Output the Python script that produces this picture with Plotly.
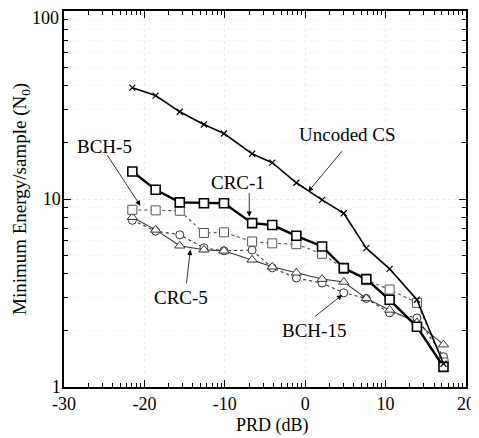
import math
import plotly.graph_objects as go

# ---- data ----
prd_db = [-21.5, -18.6, -15.6, -12.6, -10.1, -6.6, -4.1, -1.1, 2.1, 4.8, 7.6, 10.5, 13.9, 17.2]
uncoded_cs = [39.1, 35.5, 29.1, 24.9, 22.3, 17.4, 15.6, 12.2, 9.9, 8.4, 5.48, 4.25, 2.91, 1.33]
crc_1 = [14.0, 11.2, 9.6, 9.5, 9.5, 7.44, 7.27, 6.37, 5.59, 4.29, 3.75, 2.91, 2.09, 1.28]
bch_5 = [8.76, 8.7, 8.66, 6.6, 6.65, 5.94, 5.81, 5.75, 5.11, 4.25, 3.7, 3.3, 2.8, 1.35]
crc_5 = [8.0, 6.85, 5.64, 5.37, 5.3, 4.75, 4.36, 4.05, 3.75, 3.62, 2.96, 2.57, 2.2, 1.68]
bch_15 = [7.7, 6.75, 6.45, 5.5, 5.3, 5.35, 4.3, 3.8, 3.57, 3.17, 2.96, 2.48, 2.33, 1.45]

x_ticks = [-30, -20, -10, 0, 10, 20]
y_ticks = [1, 10, 100]
y_ticklabels = ["1", "10", "100"]

FONT = "Liberation Serif, Times New Roman, serif"

fig = go.Figure()

def add(name, y, symbol, lw, color, dash, msize, mlw):
    fig.add_trace(go.Scatter(
        x=prd_db, y=y, name=name, mode="lines+markers",
        line=dict(color=color, width=lw, dash=dash),
        marker=dict(symbol=symbol, size=msize, color="white",
                    line=dict(color=color, width=mlw)),
        showlegend=False))

add("BCH-15", bch_15, "circle", 1.1, "#333333", "dot", 8, 1.0)
add("CRC-5", crc_5, "triangle-up", 1.1, "#333333", "solid", 9, 1.0)
add("BCH-5", bch_5, "square", 1.1, "#555555", "dot", 9, 1.0)
add("CRC-1", crc_1, "square", 2.4, "#000000", "solid", 9, 1.6)
fig.add_trace(go.Scatter(
    x=prd_db, y=uncoded_cs, name="Uncoded CS", mode="lines+markers",
    line=dict(color="black", width=1.6),
    marker=dict(symbol="x-thin", size=6, color="black", line=dict(color="black", width=1.2)),
    showlegend=False))

# minor ticks
x_minor = [a + 10 * math.log10(k) for a in x_ticks[:-1] for k in range(2, 10)]
y_minor = [d * k for d in (1, 10) for k in range(2, 10)]

axis_common = dict(showline=True, linecolor="black", linewidth=1.5, mirror="allticks",
                   ticks="inside", ticklen=7, tickwidth=1, tickcolor="black",
                   showgrid=True, gridcolor="#ececec", griddash="dot", gridwidth=1,
                   zeroline=False, automargin=False,
                   tickfont=dict(family=FONT, size=18, color="black"))

fig.update_xaxes(range=[-30, 20], tickmode="array", tickvals=x_ticks,
                 ticktext=[str(v) for v in x_ticks], ticklabelstandoff=0,
                 minor=dict(tickmode="array", tickvals=x_minor, ticks="inside", ticklen=4,
                            tickcolor="black", showgrid=False),
                 **axis_common)
# the top label ("100") would be clipped at the page edge, so it is drawn as an annotation
fig.update_yaxes(type="log", range=[0, 2], tickmode="array", tickvals=y_ticks,
                 ticktext=y_ticklabels[:-1] + [""], ticklabelstandoff=-2,
                 minor=dict(tickmode="array", tickvals=y_minor, ticks="inside", ticklen=4,
                            tickcolor="black", showgrid=True, gridcolor="#f3f3f3",
                            griddash="dot"),
                 **axis_common)
fig.add_annotation(xref="paper", x=0, y=math.log10(y_ticks[-1]), text=y_ticklabels[-1],
                   showarrow=False, font=dict(family=FONT, size=18, color="black"),
                   xanchor="right", yanchor="middle", xshift=-3, yshift=-7)

# axis titles as annotations for exact placement
fig.add_annotation(x=-4.1, y=0, xref="x", yref="paper", text="PRD (dB)", showarrow=False,
                   font=dict(family=FONT, size=18, color="black"),
                   xanchor="center", yanchor="top", yshift=-26)
fig.add_annotation(xref="paper", yref="paper", x=0, y=0.5,
                   text="Minimum Energy/sample (N<sub>0</sub>)", textangle=-90,
                   showarrow=False, font=dict(family=FONT, size=19, color="black"),
                   xanchor="center", yanchor="middle", xshift=-43)

ann_font = dict(family=FONT, size=19, color="black")
labels = [
    ("Uncoded CS", 5.2, 1.342),
    ("CRC-1", -8.3, 1.087),
    ("BCH-5", -25.0, 1.278),
    ("CRC-5", -15.5, 0.474),
    ("BCH-15", 1.1, 0.298),
]
for text, x, ylog in labels:
    fig.add_annotation(x=x, y=ylog, text=text, showarrow=False, font=ann_font,
                       xanchor="center", yanchor="middle")

arrows = [
    (0.37, 1.0386, 35, -42),
    (-6.96, 0.9055, 0, -25),
    (-20.5, 0.964, -34, -52),
    (-14.29, 0.7297, -4, 35),
    (4.6, 0.49, -29, 23),
]
for x, ylog, ax, ay in arrows:
    fig.add_annotation(x=x, y=ylog, text="", showarrow=True, arrowhead=2,
                       arrowsize=1.3, arrowwidth=0.8, arrowcolor="black",
                       ax=ax, ay=ay)

# the page body adds an 8px offset, so the figure is 8px smaller on each axis
fig.update_layout(width=471, height=430, margin=dict(l=56, r=13, t=3, b=51),
                  paper_bgcolor="white", plot_bgcolor="white",
                  font=dict(family=FONT, color="black"))

fig.write_html("out.html")
